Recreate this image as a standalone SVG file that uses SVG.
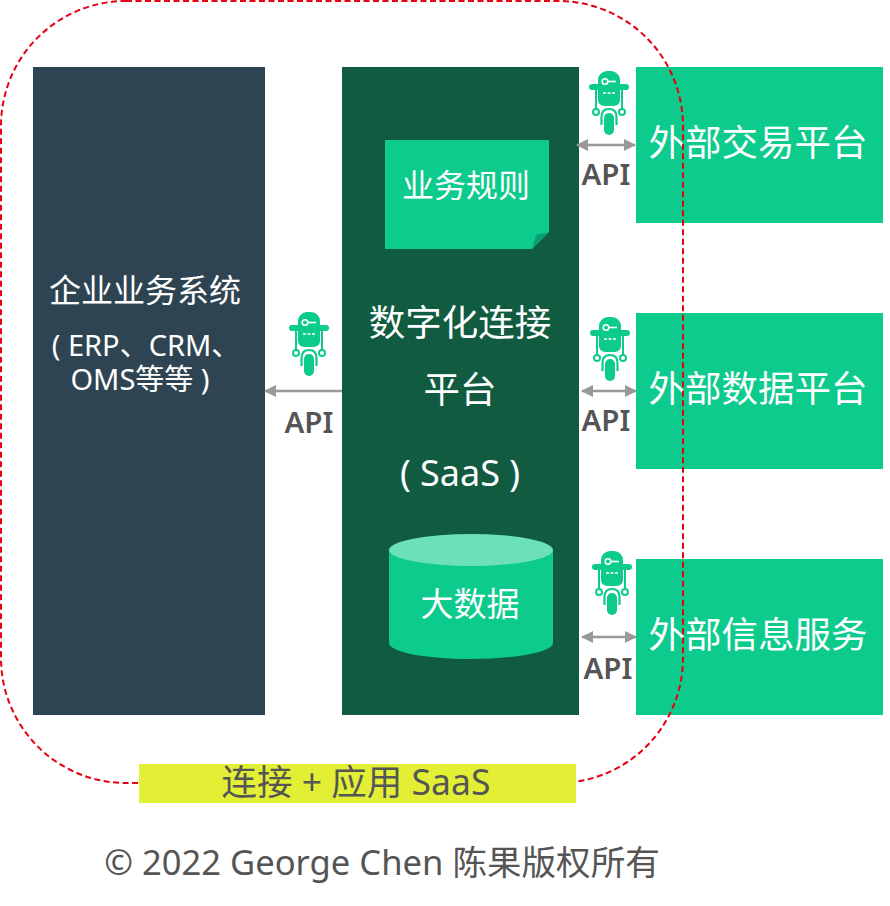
<svg xmlns="http://www.w3.org/2000/svg" xmlns:xlink="http://www.w3.org/1999/xlink" width="890" height="906" viewBox="0 0 890 906">
<style>
text{font-family:"Noto Sans","Noto Sans CJK SC",sans-serif;text-anchor:middle}
.w{fill:#fff}
.g{fill:#555}
.api{fill:#555;font-size:29.500px;font-weight:600}
.ext{fill:#0ccb8d}
.conn{stroke:#999;stroke-width:2.500;fill:none}
</style>
<defs>
<marker id="ah" viewBox="0 0 12 12" refX="11" refY="6" markerWidth="12" markerHeight="12" markerUnits="userSpaceOnUse" orient="auto-start-reverse"><path d="M0 0L12 6L0 12Z" fill="#999"/></marker>
<symbol id="robot" viewBox="-21 0 42 66" width="42" height="66" overflow="visible">
<path d="M-11 13V9A9 9 0 0 1-2 0H2A9 9 0 0 1 11 9V13H17A2.800 2.800 0 0 1 17 19H11V29Q11 34 5 35H-5Q-11 34-11 29V19H-17A2.800 2.800 0 0 1-17 13Z" fill="#0ccb8d"/>
<circle cx="-4" cy="10.500" r="2.800" fill="#0ccb8d" stroke="#fff" stroke-width="1.600"/>
<path d="M-1 10.500H7" stroke="#fff" stroke-width="1.600"/>
<path d="M-6 22H6" stroke="#fff" stroke-width="1.300" stroke-dasharray="3 1.500"/>
<path d="M-13 19V38M13 19V38" stroke="#0ccb8d" stroke-width="2"/>
<circle cx="-13" cy="41" r="3" fill="none" stroke="#0ccb8d" stroke-width="2"/>
<circle cx="13" cy="41" r="3" fill="none" stroke="#0ccb8d" stroke-width="2"/>
<path d="M-7.500 54V46Q-7.500 38 0 38Q7.500 38 7.500 46V54" fill="none" stroke="#0ccb8d" stroke-width="2.200"/>
<rect x="-5" y="42" width="10" height="22" rx="5" fill="#0ccb8d"/>
</symbol>
</defs>
<rect width="890" height="906" fill="#fff"/>

<g id="enterprise">
<rect x="33" y="67" width="232" height="648" fill="#2e4453"/>
<text class="w" x="145" y="302" font-size="32">企业业务系统</text>
<text class="w" x="146" y="356" font-size="29">( ERP、CRM、</text>
<text class="w" x="140" y="390" font-size="29">OMS等等 )</text>
</g>

<g id="platform">
<rect x="342" y="67" width="237" height="648" fill="#115c41"/>
<text class="w" x="460" y="336" font-size="36.500">数字化连接</text>
<text class="w" x="460" y="403" font-size="36.500">平台</text>
<text class="w" x="460" y="486" font-size="36">( SaaS )</text>
</g>

<g id="rules">
<path d="M385 140H549V232L532 249H385Z" fill="#0ccb8d"/>
<path d="M549 232L532 249L536 235Z" fill="#0a9f70"/>
<text class="w" x="466" y="197" font-size="32">业务规则</text>
</g>

<g id="bigdata">
<path d="M389 550V643C389 652 426 659 471 659C516 659 553 652 553 643V550Z" fill="#0ccb8d"/>
<ellipse cx="471" cy="550" rx="82" ry="16" fill="#6ce0b9"/>
<text class="w" x="470" y="616" font-size="33">大数据</text>
</g>

<g id="ext-trade">
<rect class="ext" x="636" y="67" width="247" height="156"/>
<text class="w" x="758" y="156" font-size="36.500">外部交易平台</text>
</g>
<g id="ext-data">
<rect class="ext" x="636" y="313" width="247" height="156"/>
<text class="w" x="758" y="402" font-size="36.500">外部数据平台</text>
</g>
<g id="ext-info">
<rect class="ext" x="636" y="559" width="247" height="156"/>
<text class="w" x="758" y="648" font-size="36.500">外部信息服务</text>
</g>

<g id="connectors">
<path class="conn" d="M342 391H265" marker-end="url(#ah)"/>
<path class="conn" d="M577 145H635" marker-start="url(#ah)" marker-end="url(#ah)"/>
<path class="conn" d="M582 391H636" marker-start="url(#ah)" marker-end="url(#ah)"/>
<path class="conn" d="M582 637H636" marker-start="url(#ah)" marker-end="url(#ah)"/>
</g>

<g id="robot-left"><use href="#robot" x="288" y="312"/></g>
<g id="robot-trade"><use href="#robot" x="588" y="71"/></g>
<g id="robot-data"><use href="#robot" x="589" y="317"/></g>
<g id="robot-info"><use href="#robot" x="591" y="551"/></g>

<text class="api" x="309" y="433">API</text>
<text class="api" x="606" y="185">API</text>
<text class="api" x="606" y="431">API</text>
<text class="api" x="608" y="679">API</text>

<g id="boundary">
<rect x="1" y="1" width="682" height="782" rx="125" ry="125" fill="none" stroke="#e60012" stroke-width="2" stroke-dasharray="6 3.500"/>
</g>
<g id="saas-label">
<rect x="139" y="764" width="437" height="39" fill="#e2ef35"/>
<text class="g" x="356" y="795" font-size="35.500">连接 + 应用 SaaS</text>
</g>
<text class="g" x="382" y="875" font-size="34.600">© 2022 George Chen 陈果版权所有</text>
</svg>
